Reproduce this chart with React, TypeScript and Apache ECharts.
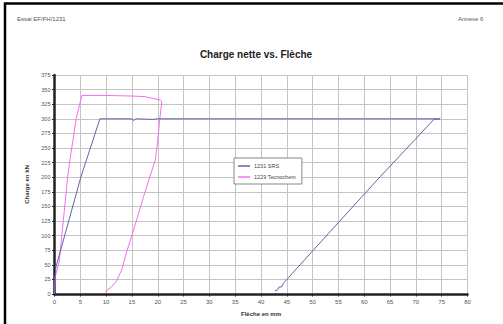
import React, { useEffect, useRef } from "react";
import * as echarts from "echarts";

// Déplacement (mm) et charge (kN) relevés pour chaque essai
const srsX = [0, 0.1, 0.25, 5.1, 8.8, 15, 15.3, 15.8, 19, 20, 74.7, 73.5, 63.1, 53, 44.3, 44, 43.5, 43.2, 42.7];
const srsY = [0, 25, 45, 200, 300, 300, 297, 300, 299, 300, 300, 299, 201, 103, 18, 12, 12, 7, 5.6];

const tecX = [0, 0.15, 0.9, 2.55, 3.0, 4.2, 5.3, 10, 15, 17.5, 18.5, 20.5, 20.8, 20.4, 19.9, 19.5, 17.2, 14.95, 13.9, 13.0, 12.0, 11.0, 10.0, 9.8];
const tecY = [0, 30, 55, 200, 230, 300, 340, 340, 339, 338, 336, 332, 330, 300, 255, 229, 165, 99, 70, 41, 22, 12, 5, 4];

const seriesNames = ["1231 SRS", "1229 Tecnochem"];
const seriesColors = ["#6262aa", "#f070f0"];

const xMin = 0, xMax = 80, xStep = 5;
const yMin = 0, yMax = 375, yStep = 25;

const FONT = "Liberation Sans, Arial, sans-serif";

const pairs = (xs: number[], ys: number[]) => xs.map((x, i) => [x, ys[i]]);

export default function App() {
  const ref = useRef<HTMLDivElement>(null);

  useEffect(() => {
    document.body.style.margin = "0";
    const chart = echarts.init(ref.current!, null, { renderer: "svg" });
    chart.setOption({
      animation: false,
      backgroundColor: "#ffffff",
      textStyle: { fontFamily: FONT },
      title: {
        text: "Charge nette vs. Flèche",
        left: 251,
        top: 44,
        textAlign: "center",
        textStyle: { fontSize: 10, fontWeight: "bold", color: "#222", fontFamily: FONT },
      },
      graphic: [
        { type: "rect", shape: { x: 5, y: 3.5, width: 510, height: 330 }, style: { fill: "none", stroke: "#000", lineWidth: 2.5 }, silent: true },
        { type: "text", left: 17, top: 16, style: { text: "Essai EF/FH/1231", fontSize: 6, fill: "#555", fontFamily: FONT } },
        { type: "text", left: 458, top: 16, style: { text: "Annexe 6", fontSize: 6, fill: "#555", fontFamily: FONT } },
      ],
      legend: {
        orient: "vertical",
        left: 234,
        top: 158,
        width: 65,
        padding: [5, 6, 4, 4],
        itemGap: 5,
        itemWidth: 12,
        itemHeight: 1.5,
        icon: "rect",
        borderColor: "#888",
        borderWidth: 1,
        backgroundColor: "#fff",
        textStyle: { fontSize: 5.5, color: "#444", fontFamily: FONT, padding: [0, 0, 0, -1] },
        data: seriesNames,
      },
      grid: { left: 54.5, right: 35.5, top: 75, bottom: 30, containLabel: false },
      xAxis: {
        type: "value",
        min: xMin,
        max: xMax,
        interval: xStep,
        name: "Flèche en mm",
        nameLocation: "middle",
        nameGap: 17,
        nameTextStyle: { fontSize: 6, fontWeight: "bold", color: "#333", fontFamily: FONT },
        axisLine: { onZero: false, lineStyle: { color: "#222", width: 2.5 } },
        axisTick: { show: true, length: 2.5, lineStyle: { color: "#222", width: 1 } },
        axisLabel: { fontSize: 6, color: "#555", margin: 5, fontFamily: FONT },
        splitLine: { show: true, lineStyle: { color: "#c4c4c4", width: 1 } },
      },
      yAxis: {
        type: "value",
        min: yMin,
        max: yMax,
        interval: yStep,
        name: "Charge en kN",
        nameLocation: "middle",
        nameGap: 19,
        nameRotate: 90,
        nameTextStyle: { fontSize: 6, fontWeight: "bold", color: "#333", fontFamily: FONT },
        axisLine: { show: true, onZero: false, lineStyle: { color: "#222", width: 2.5 } },
        axisTick: { show: true, length: 2.5, lineStyle: { color: "#222", width: 1 } },
        axisLabel: { fontSize: 5.5, color: "#555", margin: 4, fontFamily: FONT },
        splitLine: { show: true, lineStyle: { color: "#c4c4c4", width: 1 } },
      },
      series: [
        {
          name: seriesNames[0],
          type: "line",
          data: pairs(srsX, srsY),
          showSymbol: false,
          symbol: "none",
          color: seriesColors[0],
          lineStyle: { color: seriesColors[0], width: 1 },
          z: 3,
        },
        {
          name: seriesNames[1],
          type: "line",
          data: pairs(tecX, tecY),
          showSymbol: false,
          symbol: "none",
          color: seriesColors[1],
          lineStyle: { color: seriesColors[1], width: 1 },
          z: 2,
        },
      ],
    });
    return () => chart.dispose();
  }, []);

  return (
    <div
      ref={ref}
      style={{ position: "fixed", left: 0, top: 0, width: 503, height: 324, background: "#fff" }}
    />
  );
}
